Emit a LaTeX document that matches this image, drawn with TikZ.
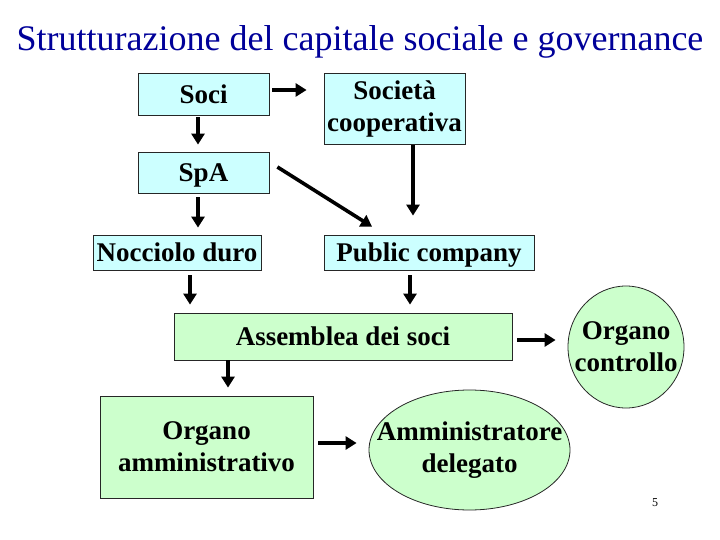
\documentclass[tikz,border=0pt]{standalone}
\usepackage{fontspec}
\setmainfont{Liberation Serif}
\usetikzlibrary{shapes.geometric,arrows.meta}
\definecolor{titleblue}{RGB}{0,0,153}
\definecolor{boxcyan}{RGB}{204,255,255}
\definecolor{boxgreen}{RGB}{204,255,204}
\tikzset{
  cbox/.style={draw=black!85, line width=0.8pt, fill=boxcyan, inner sep=0pt, align=center,
    font=\fontsize{27}{32}\selectfont\bfseries},
  gbox/.style={cbox, fill=boxgreen},
  oneline/.style={text depth=0pt},
  gell/.style={ellipse, draw=black!85, line width=0.8pt, fill=boxgreen, inner sep=-40pt, align=center,
    font=\fontsize{27}{32}\selectfont\bfseries},
  arr/.style={line width=3.6pt, -{Triangle[length=11pt,width=13pt]}}
}
\begin{document}
\begin{tikzpicture}[x=1pt,y=-1pt]
\useasboundingbox (0,0) rectangle (720,540);
\node[font=\fontsize{36}{40}\selectfont, text=titleblue] (title) at (360,42) {Strutturazione del capitale sociale e governance};
\node[cbox, oneline, minimum width=131pt, minimum height=42pt] (soci) at (203.5,94) {Soci};
\node[cbox, minimum width=141pt, minimum height=71pt] (coop) at (394.5,108.5) {Società\\cooperativa};
\node[cbox, oneline, minimum width=131pt, minimum height=41pt] (spa) at (203.5,172.5) {SpA};
\node[cbox, oneline, minimum width=168pt, minimum height=35pt] (nocc) at (177,252.5) {Nocciolo duro};
\node[cbox, oneline, minimum width=210pt, minimum height=35pt] (pub) at (429,252.5) {Public company};
\node[gbox, oneline, minimum width=338pt, minimum height=47pt] (ass) at (343,336.5) {Assemblea dei soci};
\node[gell, minimum width=116pt, minimum height=122pt] (ctrl) at (626,347) {Organo\\controllo};
\node[gbox, minimum width=213pt, minimum height=102pt] (amm) at (206.5,447) {Organo\\amministrativo};
\node[gell, minimum width=201pt, minimum height=120pt] (del) at (469.5,450) {Amministratore\\delegato};
\node[font=\fontsize{12}{14}\selectfont] (pg) at (655,503) {5};
% connectors
\draw[arr] ([shift={(3,-4)}]soci.east) -- ([shift={(-17,-18.5)}]coop.west);
\draw[arr] ([shift={(-5.5,2)}]soci.south) -- ([shift={(-5.5,-7)}]spa.north);
\draw[arr] ([shift={(-5.5,4)}]spa.south) -- ([shift={(21,-7)}]nocc.north);
\draw[arr] ([shift={(8,-5.5)}]spa.east) -- ([shift={(-57,-8)}]pub.north);
\draw[arr] ([shift={(18.5,1)}]coop.south) -- ([shift={(-16,-19)}]pub.north);
\draw[arr] ([shift={(13,5)}]nocc.south) -- ([shift={(-153,-8)}]ass.north);
\draw[arr] ([shift={(-19,5)}]pub.south) -- ([shift={(67,-8)}]ass.north);
\draw[arr] ([shift={(5,3.5)}]ass.east) -- ([shift={(-12,-7)}]ctrl.west);
\draw[arr] ([shift={(-115,0)}]ass.south) -- ([shift={(21.5,-8)}]amm.north);
\draw[arr] ([shift={(5,-4)}]amm.east) -- ([shift={(-12,-7)}]del.west);
\end{tikzpicture}
\end{document}
